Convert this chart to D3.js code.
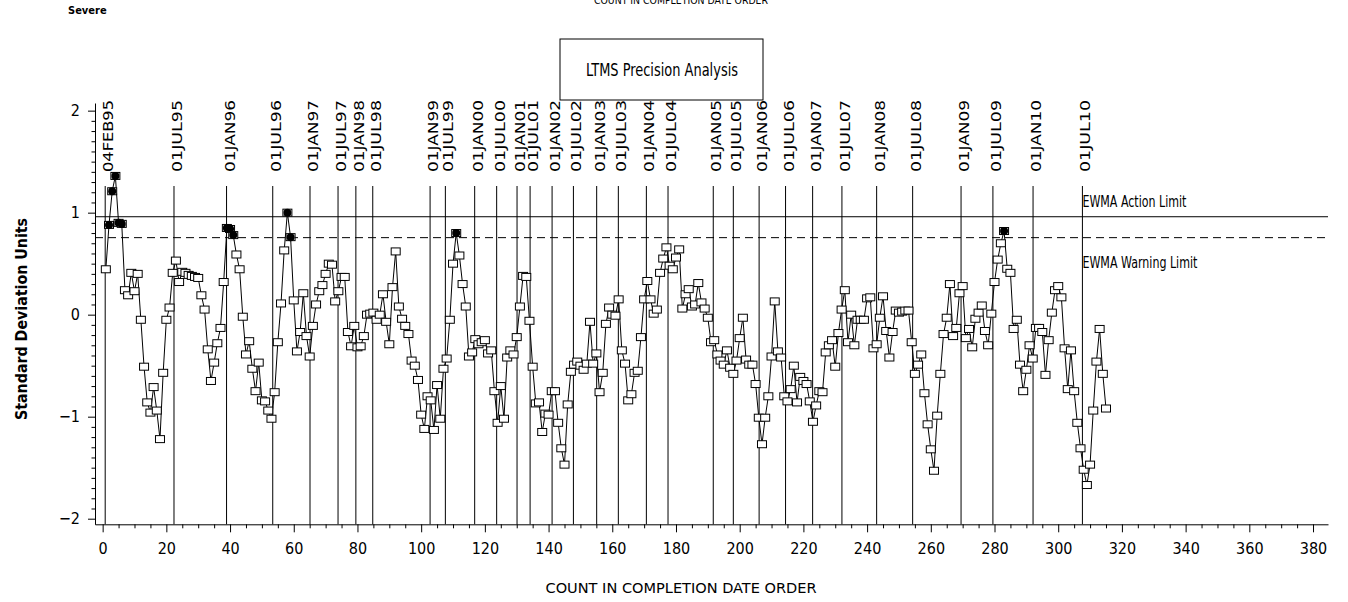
<!DOCTYPE html>
<html>
<head>
<meta charset="utf-8">
<script src="https://cdn.jsdelivr.net/npm/d3@7"></script>
<style>
  body { margin: 0; background: #fff; }
  text { font-family: "Liberation Sans Narrow", "DejaVu Sans Condensed", sans-serif; fill: #000; }
</style>
</head>
<body>
<div id="chart"></div>
<script>
// EWMA values in count order (standard deviation units)
var ewma = [
  0.445, 0.88, 1.21, 1.36, 0.90, 0.89,
  0.24, 0.19, 0.41, 0.23, 0.40, -0.05, -0.51, -0.86, -0.96, -0.71, -0.94, -1.22, -0.57, -0.05, 0.07, 0.41, 0.53, 0.32,
  0.42, 0.41, 0.39, 0.38, 0.37, 0.36,
  0.19, 0.05, -0.34, -0.65, -0.47, -0.28, -0.13, 0.32, 0.85, 0.84, 0.78, 0.59, 0.445, -0.02, -0.39, -0.26, -0.53, -0.75, -0.47, -0.84,
  -0.85, -0.94, -1.02, -0.76, -0.27, 0.11, 0.63, 1.0, 0.76, 0.14, -0.36, -0.17, 0.21, -0.21, -0.41, -0.11, 0.10, 0.23, 0.29, 0.40,
  0.50, 0.49, 0.13, 0.23, 0.37, 0.37, -0.17, -0.31, -0.11, -0.32, -0.31, -0.21, 0.00, 0.01, 0.02, -0.05, 0.00, 0.20, -0.07, -0.29, 0.27,
  0.62, 0.08, -0.04, -0.11, -0.19, -0.45, -0.50, -0.64, -0.98,
  -1.12, -0.80, -0.84, -1.13, -0.69, -1.02, -0.53, -0.43, -0.05, 0.50, 0.80, 0.58, 0.30, 0.08, -0.41, -0.37, -0.24, -0.29, -0.27, -0.25, -0.38,
  -0.35, -0.75, -1.06, -0.70, -1.02, -0.42, -0.35, -0.39, -0.22, 0.08, 0.38, 0.37, -0.06, -0.51, -0.87, -0.86, -1.15, -0.97, -0.98, -0.75,
  -0.75, -1.06, -1.31, -1.47, -0.88, -0.56, -0.49, -0.46,
  -0.50, -0.54, -0.48, -0.07, -0.48, -0.38, -0.76, -0.57, -0.09, 0.07, 0.00, -0.01, 0.15, -0.35, -0.48, -0.84, -0.78, -0.57, -0.55, -0.22,
  0.15, 0.33, 0.15, 0.01, 0.05, 0.41, 0.55, 0.66, 0.48, 0.445, 0.56, 0.64, 0.06, 0.20, 0.25, 0.08, 0.10, 0.31, 0.12, 0.06,
  -0.03, -0.27, -0.25, -0.39, -0.45, -0.49, -0.35, -0.52, -0.58,
  -0.45, -0.23, -0.03, -0.44, -0.49, -0.49, -0.68, -1.01, -1.27, -1.01, -0.80, -0.41, 0.13, -0.36, -0.42, -0.80, -0.85, -0.73, -0.50, -0.86,
  -0.61, -0.65, -0.68, -0.85, -1.05, -0.89, -0.75, -0.76, -0.37, -0.30, -0.25, -0.51, -0.18, 0.05, 0.24, -0.27, 0.00, -0.30, -0.05, -0.05,
  -0.05, 0.16, 0.17, -0.33, -0.29, -0.03, 0.18, -0.16, -0.42, -0.17, 0.04,
  0.02, 0.03, 0.04, 0.04, -0.27, -0.58, -0.49, -0.39, -0.77, -1.075, -1.32, -1.53, -0.99, -0.58, -0.19, -0.03, 0.30, -0.21, -0.13, 0.21,
  0.28, -0.23, -0.14, -0.32, -0.04, 0.02, 0.09, -0.16, -0.30, 0.01, 0.32, 0.54, 0.70, 0.82, 0.45, 0.41, -0.14, -0.05, -0.49, -0.75,
  -0.54, -0.30, -0.43, -0.13, -0.13, -0.17, -0.59, -0.25, 0.02, 0.24,
  0.28, 0.17, -0.33, -0.73, -0.35, -0.75, -1.06, -1.31, -1.52, -1.67, -1.47, -0.94, -0.46, -0.14, -0.58, -0.92
];

// reference dates and where they fall on the count axis
var dateLabels = ["04FEB95", "01JUL95", "01JAN96", "01JUL96", "01JAN97", "01JUL97", "01JAN98", "01JUL98",
  "01JAN99", "01JUL99", "01JAN00", "01JUL00", "01JAN01", "01JUL01", "01JAN02", "01JUL02", "01JAN03", "01JUL03",
  "01JAN04", "01JUL04", "01JAN05", "01JUL05", "01JAN06", "01JUL06", "01JAN07", "01JUL07", "01JAN08", "01JUL08",
  "01JAN09", "01JUL09", "01JAN10", "01JUL10"];
var dateCounts = [0.8, 22.4, 38.9, 53.4, 65.1, 73.9, 79.5, 84.8, 102.8, 107.6, 116.8, 123.7, 130.1, 134.2, 141.1, 147.8,
  155.1, 161.9, 170.7, 177.5, 191.7, 198.0, 206.1, 214.4, 222.9, 232.1, 243.0, 254.3, 269.5, 279.5, 292.1, 307.6];

var yTicks = [-2, -1, 0, 1, 2];
var xTicks = d3.range(0, 381, 20);
var actionLimit = 0.96;
var warningLimit = 0.755;

var svgWidth = 1348;
var svgHeight = 602;

var svg = d3.select("#chart")
  .append("svg")
  .attr("width", svgWidth)
  .attr("height", svgHeight);

var x = d3.scaleLinear().domain([-2.4, 384.7]).range([95, 1328]);
var y = d3.scaleLinear().domain([-2.055, 2.075]).range([524.3, 103]);

var points = ewma.map(function (v, i) { return { count: i + 1, value: v }; });

// header texts
svg.append("text")
  .attr("x", 68).attr("y", 14)
  .attr("font-size", 11).attr("font-weight", "bold")
  .text("Severe");

svg.append("text")
  .attr("x", 681).attr("y", 4)
  .attr("text-anchor", "middle")
  .attr("font-size", 11)
  .attr("textLength", 174).attr("lengthAdjust", "spacingAndGlyphs")
  .text("COUNT IN COMPLETION DATE ORDER");

svg.append("rect")
  .attr("x", 560).attr("y", 39).attr("width", 203).attr("height", 61)
  .attr("fill", "none").attr("stroke", "#000").attr("stroke-width", 1);

svg.append("text")
  .attr("x", 662).attr("y", 76)
  .attr("text-anchor", "middle")
  .attr("font-size", 17)
  .attr("textLength", 152).attr("lengthAdjust", "spacingAndGlyphs")
  .text("LTMS Precision Analysis");

// axes
var leftAxis = d3.axisLeft(y).tickValues(yTicks).tickSize(7).tickPadding(8).tickSizeOuter(0)
  .tickFormat(d3.format("d"));
var leftMinor = d3.axisLeft(y)
  .tickValues(d3.range(-20, 21).filter(function (d) { return d % 10 !== 0; }).map(function (d) { return d / 10; }))
  .tickSize(3.5).tickFormat("");

var bottomAxis = d3.axisBottom(x).tickValues(xTicks).tickSize(8).tickPadding(10).tickSizeOuter(0);
var bottomMinor = d3.axisBottom(x)
  .tickValues(d3.range(5, 381, 5).filter(function (d) { return d % 20 !== 0; }))
  .tickSize(4).tickFormat("");

var gLeft = svg.append("g").attr("transform", "translate(95,0)").call(leftAxis);
svg.append("g").attr("transform", "translate(95,0)").call(leftMinor).select(".domain").remove();
var gBottom = svg.append("g").attr("transform", "translate(0,524.3)").call(bottomAxis);
svg.append("g").attr("transform", "translate(0,524.3)").call(bottomMinor).select(".domain").remove();

svg.selectAll(".tick line").attr("stroke", "#000");
svg.selectAll(".domain").attr("stroke", "#000");
gLeft.selectAll("text").attr("font-size", 16).attr("font-family", "Liberation Sans Narrow, DejaVu Sans Condensed, sans-serif");
gBottom.selectAll("text").attr("font-size", 16).attr("font-family", "Liberation Sans Narrow, DejaVu Sans Condensed, sans-serif");

// axis titles
svg.append("text")
  .attr("transform", "translate(27,319) rotate(-90)")
  .attr("text-anchor", "middle")
  .attr("font-size", 15).attr("font-weight", "bold")
  .attr("textLength", 202).attr("lengthAdjust", "spacingAndGlyphs")
  .text("Standard Deviation Units");

svg.append("text")
  .attr("x", 681).attr("y", 593)
  .attr("text-anchor", "middle")
  .attr("font-size", 14)
  .attr("textLength", 271).attr("lengthAdjust", "spacingAndGlyphs")
  .text("COUNT IN COMPLETION DATE ORDER");

// date reference lines and labels
svg.selectAll(".dateLine")
  .data(dateCounts)
  .enter()
  .append("line")
  .attr("class", "dateLine")
  .attr("x1", function (d) { return x(d); })
  .attr("x2", function (d) { return x(d); })
  .attr("y1", 186).attr("y2", 524.3)
  .attr("stroke", "#000").attr("stroke-width", 1);

svg.selectAll(".dateLabel")
  .data(dateCounts)
  .enter()
  .append("text")
  .attr("class", "dateLabel")
  .attr("transform", function (d) { return "translate(" + (x(d) + 8) + ",172) rotate(-90)"; })
  .attr("font-family", "DejaVu Sans, sans-serif")
  .attr("font-size", 14)
  .attr("textLength", 72).attr("lengthAdjust", "spacingAndGlyphs")
  .text(function (d, i) { return dateLabels[i]; });

// EWMA limits
svg.append("line")
  .attr("x1", 95).attr("x2", 1328)
  .attr("y1", y(actionLimit)).attr("y2", y(actionLimit))
  .attr("stroke", "#000").attr("stroke-width", 1);

svg.append("line")
  .attr("x1", 95).attr("x2", 1328)
  .attr("y1", y(warningLimit)).attr("y2", y(warningLimit))
  .attr("stroke", "#000").attr("stroke-width", 1)
  .attr("stroke-dasharray", "8,5");

svg.append("text")
  .attr("x", x(dateCounts[dateCounts.length - 1])).attr("y", 207)
  .attr("font-size", 15)
  .attr("textLength", 104).attr("lengthAdjust", "spacingAndGlyphs")
  .text("EWMA Action Limit");

svg.append("text")
  .attr("x", x(dateCounts[dateCounts.length - 1])).attr("y", 268)
  .attr("font-size", 15)
  .attr("textLength", 115).attr("lengthAdjust", "spacingAndGlyphs")
  .text("EWMA Warning Limit");

// series
var line = d3.line()
  .x(function (d) { return x(d.count); })
  .y(function (d) { return y(d.value); });

svg.append("path")
  .datum(points)
  .attr("d", line)
  .attr("fill", "none")
  .attr("stroke", "#000")
  .attr("stroke-width", 1);

svg.selectAll(".pt")
  .data(points)
  .enter()
  .append("rect")
  .attr("class", "pt")
  .attr("x", function (d) { return x(d.count) - 4.5; })
  .attr("y", function (d) { return y(d.value) - 3.5; })
  .attr("width", 9)
  .attr("height", 7)
  .attr("fill", "#fff")
  .attr("stroke", "#000")
  .attr("stroke-width", 1);

svg.selectAll(".hit")
  .data(points.filter(function (d) { return d.value > warningLimit; }))
  .enter()
  .append("circle")
  .attr("class", "hit")
  .attr("cx", function (d) { return x(d.count); })
  .attr("cy", function (d) { return y(d.value); })
  .attr("r", 4)
  .attr("fill", "#000");
</script>
</body>
</html>
